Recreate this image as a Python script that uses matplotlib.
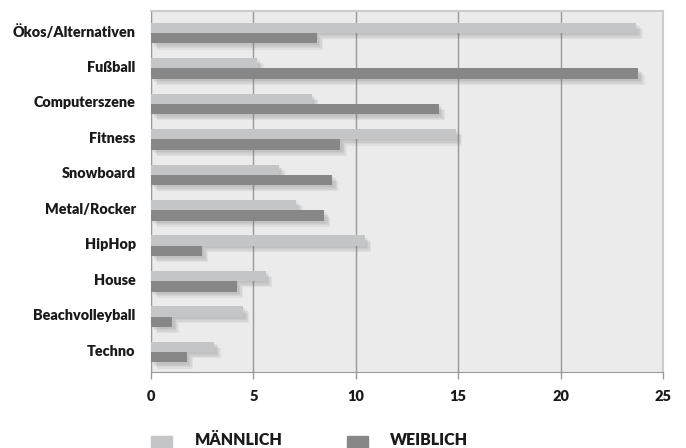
import matplotlib.pyplot as plt
import matplotlib.patheffects as pe
import matplotlib.transforms as mtransforms
from matplotlib.patches import Rectangle
import numpy as np

plt.rcParams['font.family'] = ['Lato', 'DejaVu Sans']

szenen = ["Ökos/Alternativen", "Fußball", "Computerszene", "Fitness", "Snowboard",
          "Metal/Rocker", "HipHop", "House", "Beachvolleyball", "Techno"]
maennlich = [23.7, 5.2, 7.85, 14.9, 6.25, 7.1, 10.45, 5.6, 4.5, 3.1]
weiblich = [8.1, 23.8, 14.05, 9.25, 8.85, 8.45, 2.5, 4.2, 1.05, 1.75]

farbe_m = "#c4c5c6"
farbe_w = "#878787"

fig = plt.figure(figsize=(6.86, 4.48), dpi=100)
ax = fig.add_axes([0.2201, 0.1696, 0.7464, 0.8058])
ax.set_facecolor("#ebebeb")

y = np.arange(len(szenen))
h = 0.29
# weicher Schatten aus mehreren versetzten, halbtransparenten Kopien
schatten = [pe.SimplePatchShadow(offset=(d, -d), shadow_rgbFace="#777777", alpha=0.1)
            for d in (4.5, 3.5, 2.5, 1.5)] + [pe.Normal()]
ax.barh(y - h / 2, maennlich, height=h, color=farbe_m, zorder=3, path_effects=schatten)
ax.barh(y + h / 2, weiblich, height=h, color=farbe_w, zorder=3, path_effects=schatten)

ax.set_xlim(0, 25)
ax.set_ylim(len(szenen) - 1 + 0.56, -0.62)
ax.set_xticks([0, 5, 10, 15, 20, 25])
ax.set_yticks(y)
ax.set_yticklabels(szenen, fontsize=10.4, fontweight="heavy", color="#1a1a1a")
ax.tick_params(axis="y", length=0, pad=11)
ax.tick_params(axis="x", length=5, color="#999999", width=1, pad=8,
               labelsize=10.5, labelcolor="#1a1a1a")
for lbl in ax.get_xticklabels():
    lbl.set_fontweight("heavy")
# Beschriftungen etwas nach oben schieben
hoch = mtransforms.ScaledTranslation(0, 2 / 100, fig.dpi_scale_trans)
for lbl in ax.get_yticklabels():
    lbl.set_transform(lbl.get_transform() + hoch)

ax.grid(axis="x", color="#999999", linewidth=1, zorder=1)
for s in ["left", "bottom"]:
    ax.spines[s].set_color("#999999")
for s in ["top", "right"]:
    ax.spines[s].set_color("#cccccc")
    ax.spines[s].set_linewidth(1.5)

# Legende unterhalb der Achse
fig.patches.append(Rectangle((151 / 686, 0), 21 / 686, 12 / 448,
                             transform=fig.transFigure, color=farbe_m))
fig.patches.append(Rectangle((347 / 686, 0), 21 / 686, 12 / 448,
                             transform=fig.transFigure, color=farbe_w))
fig.text(195 / 686, 3 / 448, "MÄNNLICH", fontsize=11.5, fontweight="heavy",
         color="#1a1a1a", va="baseline")
fig.text(390 / 686, 3 / 448, "WEIBLICH", fontsize=11.5, fontweight="heavy",
         color="#1a1a1a", va="baseline")

fig.savefig("out.png", dpi=100, facecolor="white")
